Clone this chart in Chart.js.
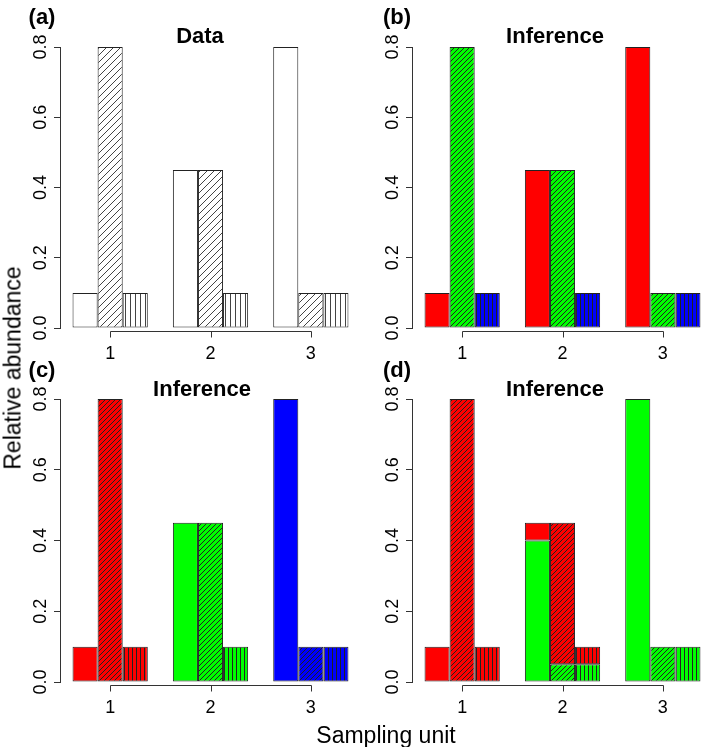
<!DOCTYPE html>
<html lang="en">
<head>
<meta charset="UTF-8">
<title>Relative abundance per sampling unit</title>
<script src="https://cdn.jsdelivr.net/npm/chart.js"></script>
<style>
  body { margin: 0; width: 703px; height: 747px; overflow: hidden; background: white; position: relative;
         font-family: "Liberation Sans", Arial, sans-serif; }
  canvas { position: absolute; }
  .lbl { position: absolute; white-space: nowrap; color: black; line-height: 1; transform: translate(-50%, -50%); }
  .bold { font-weight: bold; font-size: 22px; }
  .axis { font-size: 23px; }
</style>
</head>
<body>
<canvas id="pa" width="372" height="360" style="left:0;top:0"></canvas>
<canvas id="pb" width="372" height="360" style="left:352px;top:0"></canvas>
<canvas id="pc" width="372" height="387" style="left:0;top:360px"></canvas>
<canvas id="pd" width="372" height="387" style="left:352px;top:360px"></canvas>

<div class="lbl bold" style="left:42px;top:17px">(a)</div>
<div class="lbl bold" style="left:200px;top:36px">Data</div>
<div class="lbl bold" style="left:397px;top:17px">(b)</div>
<div class="lbl bold" style="left:555px;top:36px">Inference</div>
<div class="lbl bold" style="left:42px;top:370px">(c)</div>
<div class="lbl bold" style="left:202px;top:389px">Inference</div>
<div class="lbl bold" style="left:397px;top:370px">(d)</div>
<div class="lbl bold" style="left:555px;top:389px">Inference</div>
<div class="lbl axis" style="left:386px;top:735px">Sampling unit</div>
<div class="lbl axis" style="left:13px;top:368px;transform:translate(-50%,-50%) rotate(-90deg)">Relative abundance</div>

<script>
const samplingUnits = ['1', '2', '3'];
const yTicks = [0, 0.2, 0.4, 0.6, 0.8];

// observed abundances (same in every panel)
const solidSpecies = [0.10, 0.45, 0.80];
const hatchedSpecies = [0.80, 0.45, 0.10];
const stripedSpecies = [0.10, 0.10, 0.10];

// panel (d): each bar split into a green and a red part
const dGreenSolid = [null, 0.40, 0.80];
const dRedSolid = [0.10, 0.05, null];
const dGreenHatched = [null, 0.05, 0.10];
const dRedHatched = [0.80, 0.40, null];
const dGreenStriped = [null, 0.05, 0.10];
const dRedStriped = [0.10, 0.05, null];

const RED = '#ff0000', GREEN = '#00ff00', BLUE = '#0000ff', WHITE = '#ffffff';

Chart.defaults.font.family = '"Liberation Sans", Arial, sans-serif';

// fill with optional hatching: 'solid', 'diag' (///) or 'vert' (|||)
function fill(color, kind, gap, ink) {
  if (kind === 'solid') return color;
  const c = document.createElement('canvas');
  c.width = gap;
  c.height = kind === 'diag' ? gap : 4;
  const g = c.getContext('2d');
  g.fillStyle = color;
  g.fillRect(0, 0, c.width, c.height);
  g.strokeStyle = ink || '#222';
  g.lineWidth = 1;
  g.beginPath();
  if (kind === 'diag') {
    g.moveTo(0, gap); g.lineTo(gap, 0);
    g.moveTo(-1, 1); g.lineTo(1, -1);
    g.moveTo(gap - 1, gap + 1); g.lineTo(gap + 1, gap - 1);
  } else {
    g.moveTo(0.5, 0); g.lineTo(0.5, c.height);
  }
  g.stroke();
  return g.createPattern(c, 'repeat');
}

// R style x axis: line only from first to last tick
const rAxis = {
  id: 'rAxis',
  afterDraw(chart) {
    const xs = chart.scales.x;
    const ctx = chart.ctx;
    const y0 = Math.round(chart.chartArea.bottom + 3) + 0.5;
    const px = i => Math.round(xs.getPixelForTick(i)) + 0.5;
    ctx.save();
    ctx.strokeStyle = '#333';
    ctx.lineWidth = 1;
    ctx.beginPath();
    ctx.moveTo(px(0), y0);
    ctx.lineTo(px(xs.ticks.length - 1), y0);
    xs.ticks.forEach((t, i) => { ctx.moveTo(px(i), y0); ctx.lineTo(px(i), y0 + 6); });
    ctx.stroke();
    ctx.restore();
  }
};

function panel(id, datasets, stacked, top) {
  return new Chart(document.getElementById(id), {
    type: 'bar',
    data: { labels: samplingUnits, datasets: datasets },
    options: {
      responsive: false,
      animation: false,
      events: [],
      layout: { padding: { left: 30, right: 11, top: top, bottom: top === 47 ? 0 : 33 } },
      plugins: { legend: { display: false }, tooltip: { enabled: false } },
      datasets: {
        bar: { categoryPercentage: 0.75, barPercentage: 1, borderColor: '#222', borderWidth: 1, borderSkipped: false }
      },
      scales: {
        x: {
          stacked: stacked,
          grid: { display: false },
          border: { display: false },
          ticks: { padding: 7, color: '#000', font: { size: 18 } },
          afterFit: s => { s.height = 32; }
        },
        y: {
          stacked: stacked,
          min: 0,
          max: 0.8,
          afterBuildTicks: s => { s.ticks = yTicks.map(v => ({ value: v })); },
          grid: { drawOnChartArea: false, tickLength: 6, color: '#333' },
          border: { color: '#333' },
          ticks: {
            minRotation: 90, maxRotation: 90, crossAlign: 'center', padding: 0,
            color: '#000', font: { size: 18 },
            callback: v => v.toFixed(1)
          },
          afterFit: s => { s.width = 30; }
        }
      }
    },
    plugins: [rAxis]
  });
}

// (a) data, no colour
panel('pa', [
  { data: solidSpecies, backgroundColor: WHITE },
  { data: hatchedSpecies, backgroundColor: fill(WHITE, 'diag', 7, '#444') },
  { data: stripedSpecies, backgroundColor: fill(WHITE, 'vert', 5, '#444') }
], false, 47);

// (b) colour by species
panel('pb', [
  { data: solidSpecies, backgroundColor: RED },
  { data: hatchedSpecies, backgroundColor: fill(GREEN, 'diag', 5) },
  { data: stripedSpecies, backgroundColor: fill(BLUE, 'vert', 4) }
], false, 47);

// (c) colour by sampling unit
const unitColours = [RED, GREEN, BLUE];
panel('pc', [
  { data: solidSpecies, backgroundColor: unitColours },
  { data: hatchedSpecies, backgroundColor: unitColours.map(c => fill(c, 'diag', 5)) },
  { data: stripedSpecies, backgroundColor: unitColours.map(c => fill(c, 'vert', 4)) }
], false, 39);

// (d) mixed groups, stacked within each bar
panel('pd', [
  { data: dGreenSolid, stack: 's1', backgroundColor: GREEN },
  { data: dRedSolid, stack: 's1', backgroundColor: RED },
  { data: dGreenHatched, stack: 's2', backgroundColor: fill(GREEN, 'diag', 5) },
  { data: dRedHatched, stack: 's2', backgroundColor: fill(RED, 'diag', 5) },
  { data: dGreenStriped, stack: 's3', backgroundColor: fill(GREEN, 'vert', 4) },
  { data: dRedStriped, stack: 's3', backgroundColor: fill(RED, 'vert', 4) }
], true, 39);
</script>
</body>
</html>
